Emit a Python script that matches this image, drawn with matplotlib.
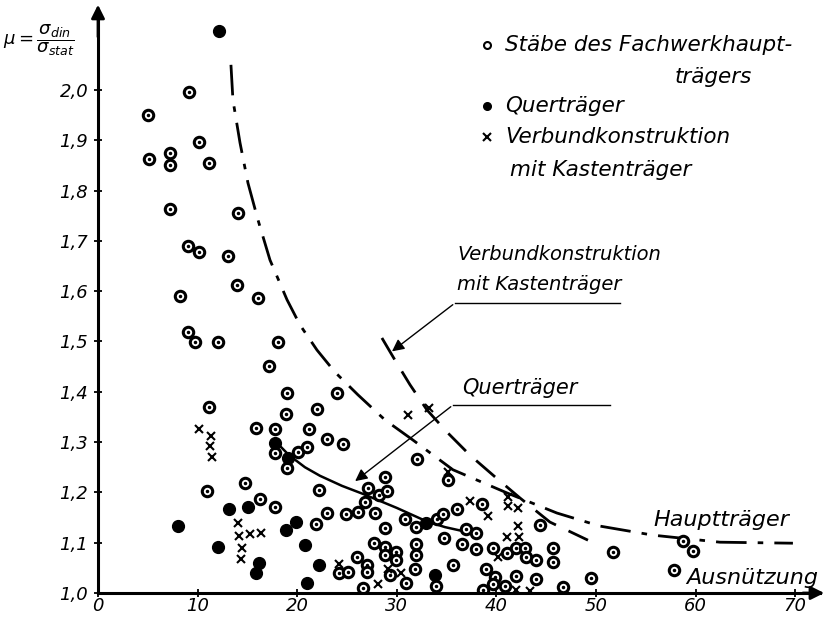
import matplotlib.pyplot as plt

plt.rcParams['font.family'] = ['DejaVu Sans']
plt.rcParams['font.style'] = 'italic'
plt.rcParams['mathtext.fontset'] = 'dejavusans'

# Stäbe des Fachwerkhauptträgers (open circles)
staebe_x = [9.17, 4.99, 5.09, 7.2, 7.2, 10.17, 11.18, 7.26, 14.06, 9.0, 10.17, 13.05, 13.99, 8.23, 16.06,
            9.07, 9.74, 12.05, 18.1, 17.2, 18.94, 18.88, 11.14, 15.86, 17.77, 17.8, 18.98, 20.05,
            10.98, 14.76, 16.27, 17.77, 23.96, 21.95, 21.15, 23.02, 24.63, 21.0, 32.0, 35.14,
            22.15, 28.8, 27.08, 28.2, 29.05, 26.8, 22.96, 24.9, 26.13, 27.78, 21.89, 30.79, 31.93,
            34.0, 34.67, 36.0, 38.55, 37.0, 38.0, 28.85, 34.74, 36.6, 38.0, 27.74, 28.85, 28.85,
            29.92, 29.92, 31.93, 31.93, 31.86, 26.03, 26.97, 27.04, 24.23, 25.13, 29.3, 30.92,
            26.64, 33.94, 35.67, 39.69, 41.03, 41.97, 42.87, 42.97, 43.98, 44.38, 38.96, 39.86,
            39.62, 38.69, 40.9, 41.97, 43.98, 45.7, 45.7, 46.66, 49.53, 51.74, 57.83, 58.77, 59.77]
staebe_y = [1.995, 1.950, 1.863, 1.875, 1.851, 1.897, 1.855, 1.763, 1.755, 1.690, 1.678, 1.669, 1.612, 1.590, 1.587,
            1.519, 1.498, 1.499, 1.499, 1.451, 1.398, 1.356, 1.370, 1.329, 1.326, 1.279, 1.249, 1.280,
            1.203, 1.219, 1.187, 1.170, 1.397, 1.366, 1.327, 1.306, 1.296, 1.291, 1.266, 1.224,
            1.205, 1.231, 1.209, 1.195, 1.203, 1.181, 1.160, 1.158, 1.161, 1.160, 1.137, 1.147, 1.132,
            1.147, 1.158, 1.166, 1.176, 1.127, 1.120, 1.129, 1.109, 1.097, 1.087, 1.099, 1.092, 1.075,
            1.082, 1.066, 1.097, 1.075, 1.047, 1.071, 1.056, 1.042, 1.040, 1.042, 1.035, 1.020,
            1.009, 1.014, 1.056, 1.089, 1.079, 1.089, 1.089, 1.071, 1.066, 1.135, 1.047, 1.031,
            1.018, 1.006, 1.014, 1.034, 1.028, 1.089, 1.062, 1.011, 1.030, 1.082, 1.046, 1.104, 1.084]

# Querträger (filled dots)
quer_x = [12.2, 17.8, 19.1, 13.19, 15.1, 8.0, 18.88, 19.92, 12.08, 16.13, 15.86, 20.81, 22.15, 20.95, 32.93, 33.87]
quer_y = [2.117, 1.299, 1.268, 1.166, 1.170, 1.133, 1.125, 1.141, 1.091, 1.059, 1.039, 1.095, 1.056, 1.020, 1.139, 1.035]

# Verbundkonstruktion mit Kastenträger (crosses)
verb_x = [10.17, 11.31, 11.24, 11.47, 14.06, 14.19, 15.26, 16.33, 14.42, 14.32, 31.1, 33.2, 24.23, 29.15,
          30.39, 28.08, 35.14, 37.35, 39.19, 41.2, 41.2, 42.2, 42.2, 41.03, 42.3, 40.2, 42.0, 43.37]
verb_y = [1.327, 1.312, 1.292, 1.271, 1.140, 1.113, 1.117, 1.120, 1.089, 1.068, 1.354, 1.367, 1.058, 1.047,
          1.039, 1.018, 1.241, 1.182, 1.153, 1.190, 1.172, 1.168, 1.133, 1.111, 1.111, 1.072, 1.006, 1.003]

# envelope curves
haupt_x = [13.35, 13.55, 14.26, 15.06, 16.06, 17.27, 18.98, 20.28, 21.99, 23.80, 26.10, 28.82, 31.63,
           35.64, 41.06, 46.08, 50.40, 55.72, 62.45, 69.78]
haupt_y = [2.050, 1.980, 1.895, 1.815, 1.742, 1.662, 1.583, 1.533, 1.483, 1.439, 1.394, 1.344, 1.304,
           1.245, 1.199, 1.159, 1.133, 1.115, 1.101, 1.099]

kasten_x = [28.51, 29.82, 31.33, 33.03, 35.04, 37.35, 39.86, 42.37, 45.38, 49.20]
kasten_y = [1.507, 1.463, 1.414, 1.364, 1.320, 1.274, 1.231, 1.189, 1.141, 1.105]

qcurve_x = [17.84, 19.18, 20.78, 22.29, 24.50, 26.61, 30.02, 32.93, 34.84, 36.65]
qcurve_y = [1.301, 1.274, 1.250, 1.233, 1.213, 1.197, 1.169, 1.143, 1.131, 1.123]

xticks = [0, 10, 20, 30, 40, 50, 60, 70]
yticks = [1.0, 1.1, 1.2, 1.3, 1.4, 1.5, 1.6, 1.7, 1.8, 1.9, 2.0]
ylabels = ['1,0', '1,1', '1,2', '1,3', '1,4', '1,5', '1,6', '1,7', '1,8', '1,9', '2,0']

W, H = 827, 618
def fp(x, y):
    # pixel position -> figure fraction
    return (x / W, 1 - y / H)

fig = plt.figure(figsize=(8.27, 6.18), dpi=100)
ax = fig.add_axes([98 / W, 1 - 593 / H, (820 - 98) / W, (593 - 9.5) / H])
ax.set_xlim(0, 72.5)
ax.set_ylim(1.0, 2.16)

# curves
ax.plot(haupt_x, haupt_y, color='k', lw=2, ls=(0, (11, 4, 2, 4)))
ax.plot(kasten_x, kasten_y, color='k', lw=2, ls=(0, (9, 5)))
ax.plot(qcurve_x, qcurve_y, color='k', lw=1.8)

# points
ax.plot(staebe_x, staebe_y, 'o', ms=7.5, mfc='white', mec='black', mew=2.2, ls='none')
ax.plot(staebe_x, staebe_y, 'o', ms=1.5, color='black', ls='none')
ax.plot(quer_x, quer_y, 'o', ms=8.5, color='black', ls='none', clip_on=False)
ax.plot(verb_x, verb_y, 'x', ms=5.5, mew=1.5, color='black', ls='none')

# axes
for s in ['top', 'right']:
    ax.spines[s].set_visible(False)
for s in ['left', 'bottom']:
    ax.spines[s].set_linewidth(2.2)
ax.set_xticks(xticks)
ax.set_xticklabels([str(t) for t in xticks])
ax.set_yticks(yticks)
ax.set_yticklabels(ylabels)
ax.tick_params(direction='inout', length=6, width=1.3, labelsize=13)
ax.tick_params(axis='x', pad=0)
ax.tick_params(axis='y', pad=4)
ax.annotate('', xy=(0, 2.175), xytext=(0, 2.10),
            arrowprops=dict(arrowstyle='-|>', color='k', lw=2, mutation_scale=20), annotation_clip=False)
ax.annotate('', xy=(73.2, 1.0), xytext=(70.5, 1.0),
            arrowprops=dict(arrowstyle='-|>', color='k', lw=2, mutation_scale=20), annotation_clip=False)

fig.text(*fp(3, 40), r'$\mu = \dfrac{\sigma_{din}}{\sigma_{stat}}$', fontsize=13, va='center', ha='left')

# legend
lx = 487
ax.plot(*fp(lx, 45), 'o', ms=5, mfc='white', mec='k', mew=1.5, transform=fig.transFigure, clip_on=False)
ax.plot(*fp(lx, 106), 'o', ms=5.5, color='k', transform=fig.transFigure, clip_on=False)
ax.plot(*fp(lx, 137), 'x', ms=5.5, mew=1.5, color='k', transform=fig.transFigure, clip_on=False)
fig.text(*fp(505, 45), 'Stäbe des Fachwerkhaupt-', fontsize=15.5, va='center')
fig.text(*fp(675, 77), 'trägers', fontsize=15.5, va='center')
fig.text(*fp(505, 106), 'Querträger', fontsize=15.5, va='center')
fig.text(*fp(505, 137), 'Verbundkonstruktion', fontsize=15.5, va='center')
fig.text(*fp(510, 170), 'mit Kastenträger', fontsize=15.5, va='center')

# labels with leader lines
fig.text(*fp(457, 255), 'Verbundkonstruktion', fontsize=14, va='center')
fig.text(*fp(457, 284), 'mit Kastenträger', fontsize=14, va='center')
ax.plot([455 / W, 620 / W], [1 - 303 / H, 1 - 303 / H], color='k', lw=1, transform=fig.transFigure, clip_on=False)
ax.annotate('', xy=(29.3, 1.477), xycoords='data', xytext=fp(455, 303), textcoords='figure fraction',
            arrowprops=dict(arrowstyle='-|>', color='k', lw=1, mutation_scale=18))

fig.text(*fp(462, 388), 'Querträger', fontsize=15, va='center')
ax.plot([453 / W, 610 / W], [1 - 405 / H, 1 - 405 / H], color='k', lw=1, transform=fig.transFigure, clip_on=False)
ax.annotate('', xy=(25.6, 1.219), xycoords='data', xytext=fp(453, 405), textcoords='figure fraction',
            arrowprops=dict(arrowstyle='-|>', color='k', lw=1, mutation_scale=18))

fig.text(*fp(653, 520), 'Hauptträger', fontsize=16, va='center')
fig.text(*fp(686, 578), 'Ausnützung', fontsize=16, va='center')

fig.savefig('out.png', dpi=100)
